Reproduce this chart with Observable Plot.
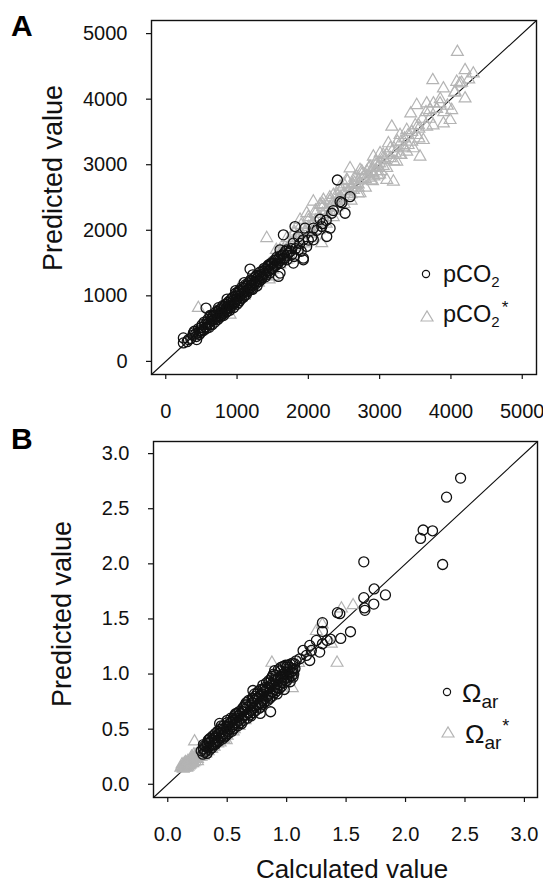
<!DOCTYPE html>
<html><head><meta charset="utf-8">
<script src="https://cdn.jsdelivr.net/npm/d3@7"></script>
<script src="https://cdn.jsdelivr.net/npm/@observablehq/plot@0.6"></script>
<style>
body{margin:0;background:#fff;}
#wrap{position:relative;width:543px;height:885px;overflow:hidden;background:#fff;font-family:"Liberation Sans",Arial,sans-serif;color:#111;}
#wrap svg.panel{position:absolute;left:0;}
#overlay{position:absolute;left:0;top:0;pointer-events:none;}
</style></head><body><div id="wrap"></div>
<script>
// ---------- data (calculated value, predicted value) ----------
const ticksA = [0, 1000, 2000, 3000, 4000, 5000];
const ticksB = [0, 0.5, 1.0, 1.5, 2.0, 2.5, 3.0];
const domainA = [-200, 5200];
const domainB = [-0.12, 3.11];

const pco2Star = [
[4090,4720],[4198,4441],[4314,4391],[3745,4289],[4081,4264],[4126,4238],[3894,4163],[4198,4010],[4058,4112],
[3520,3909],[3660,3934],[3754,3934],[3847,3934],[4011,3833],[3436,3782],[3707,3833],[3894,3630],[3988,3681],
[3660,3579],[3543,3605],[3170,3579],[3286,3452],[3380,3528],[3613,3376],[3520,3452],[3123,3326],[3333,3275],
[3473,3250],[3566,3123],[3216,3173],[3380,3199],[3286,3148],[3006,3173],[2912,3123],[3076,3072],[3240,3047],
[2865,2970],[2585,2944],[2725,2919],[2912,2868],[3100,2767],[3193,2742],[2678,2818],[2538,2767],[2445,2665],
[2632,2614],[2725,2564],[2351,2538],[2211,2463],[2070,2437],[2164,2387],[1977,2260],[1884,2159],[2188,1803],
[1416,1880],[1603,1651],[1697,1550],[1509,1296],[1322,1347],[1182,1195],[1042,1144],[457,814],[902,712],
[2800,2850],[2750,2780],[2900,2950],[2950,2900],[3000,3020],[3050,2980],[2850,2800],[2700,2700],[2650,2720],
[2600,2650],[2550,2600],[2500,2560],[2450,2500],[2400,2450],[2350,2420],[2300,2350],[2250,2300],[2200,2250],
[2150,2200],[2100,2150],[2050,2100],[2000,2050],[1950,1980],[1900,1950],[1850,1880],[1800,1850],[1750,1800],
[1700,1720],[1650,1700],[1600,1640],[1550,1580],[1500,1530],[1450,1480],[1400,1420],[1350,1380],[1300,1330],
[1250,1280],[1200,1220],[2600,2550],[2700,2650],[2800,2780],[2950,3050],[3100,3150],[2400,2550],[2300,2450],
[2200,2350],[2100,2250],[2500,2700],[2750,2900],[2250,2200],[2150,2050],[2050,1950],[1950,1850],[1850,1750],
[1750,1700],[1650,1600],[1550,1500],[1800,1950],[1700,1800],[1600,1700],[2000,2150],[3150,3100],[3300,3350],
[3400,3300],[3200,3250],[3450,3500],[3550,3550],[3600,3700],[3700,3700],[3800,3850],[3900,3800],[3350,3400],
[3050,3100],[2880,2760],[2980,2840],[700,750],[800,820],[900,880],[1000,1010],[1100,1080],[1200,1150],
[1300,1250],[1400,1350],[600,620],[1100,1000],[1250,1150],[1400,1300],[1500,1400],[1300,1200],[1450,1250],
[1550,1700],[1600,1480],[1700,1880],[1750,1600],[1800,1980],[1850,1700],[1900,2080],[1950,1800],[2000,2200],
[2050,1880],[2100,2300],[2150,2000],[2200,2400],[2250,2100],[2300,2500],[2350,2200],[2400,2350],[2450,2600],
[2500,2400],[2550,2750],[2600,2450],[2650,2800],[2700,2560],[2750,2850],[2800,2650],[2850,2950],[2900,2750],
[2950,3000],[3000,2850],[3050,3150],[3100,2950],[3150,3250],[3200,3050],[3250,3350],[3300,3150],[3350,3250],
[3400,3450],[3450,3350],[3500,3600],[3550,3400],[3650,3800],[3750,3600],[3850,4000],[3950,3900],[4050,4100],
[4150,4250],[4250,4300],[2820,2900],[2880,2880],[2920,2820],[2980,2960],[3020,2900],[2700,2760],[2620,2700],
[2560,2520],[2480,2450],[2420,2480],[2380,2300]
];

const pco2 = [
[2407,2767],[2445,2437],[2470,2420],[2585,2513],[2515,2260],[2328,2260],[2164,2168],[2188,2057],[2305,2032],
[2070,2032],[1953,2032],[1813,2057],[1650,1930],[2258,1905],[2070,1854],[1930,1854],[1790,1803],[1977,1753],
[1860,1702],[1697,1702],[1603,1702],[1767,1626],[1930,1575],[1650,1575],[1790,1499],[1930,1550],[1603,1347],
[1580,1296],[1182,1408],[565,814],[247,358],[247,282],[317,332],[434,332],[388,434],
[300,300],[350,350],[380,400],[420,420],[450,430],[480,470],[500,520],[520,480],[550,560],[560,520],[580,600],
[600,580],[620,560],[640,650],[650,620],[670,700],[680,640],[700,720],[700,680],[720,660],[740,760],[750,700],
[760,740],[780,800],[790,750],[800,720],[820,840],[830,780],[850,820],[860,760],[870,900],[880,850],[900,880],
[900,820],[920,950],[930,870],[950,930],[960,880],[980,1000],[990,940],[1000,960],[1010,1050],[1020,900],
[1040,1000],[1050,1080],[1060,960],[1080,1040],[1090,1110],[1100,1000],[1110,1070],[1130,1150],[1140,1060],
[1150,1100],[1160,1200],[1180,1120],[1200,1160],[1210,1230],[1220,1100],[1240,1200],[1250,1280],[1260,1180],
[1280,1260],[1300,1300],[1310,1220],[1330,1320],[1350,1280],[1360,1380],[1380,1340],[1400,1400],[1410,1320],
[1430,1450],[1450,1380],[1460,1480],[1480,1420],[1500,1500],[1520,1450],[1540,1540],[1560,1480],[1580,1560],
[1600,1600],[1620,1500],[1650,1640],[1700,1620],[1750,1680],[1700,1550],[1800,1600],
[400,460],[430,380],[460,500],[470,410],[490,440],[510,560],[530,470],[540,600],[570,500],[590,640],[610,520],
[630,690],[650,560],[660,680],[690,600],[710,760],[730,640],[750,790],[770,680],[780,720],[800,850],[810,700],
[840,870],[850,750],[870,800],[890,920],[900,780],[920,850],[940,980],[950,820],[970,900],[980,1040],[1000,870],
[1010,1000],[1030,1080],[1040,930],[1060,1020],[1070,1130],[1090,980],[1100,1060],[1120,1170],[1130,1020],
[1150,1150],[1170,1080],[1190,1240],[1200,1100],[1230,1170],[1250,1220],[1270,1310],[1280,1150],[1300,1240],
[1320,1360],[1340,1250],[1360,1300],[1380,1420],[1400,1290],[1420,1380],[1440,1470],[1460,1350],[1480,1500],
[1500,1420],[1520,1540],[1540,1460],[1560,1590],[1580,1500],[1600,1540],[1630,1620],[1660,1560],[1680,1680],
[1720,1650],[1760,1720],[1820,1720],[1880,1800],[1860,1900],[1900,1680],[2000,1850],[2050,1900],[2120,2000],
[2200,2100],[2250,2150],[2350,2300],[1220,1320],[1100,1200],[980,1080],[860,950],[740,820],[620,700]
];

const omegaStar = [
[0.876,1.102],[1.424,1.102],[1.048,0.871],[1.461,1.594],[1.559,1.624],[1.25,1.39],[1.376,1.275],[0.225,0.388],
[0.492,0.40],[1.30,1.45],[1.20,1.20],[1.10,1.10],[1.00,0.98],[0.95,0.92],[0.90,0.88],[0.85,0.82],[0.80,0.78],
[0.75,0.72],[0.70,0.68],[0.65,0.62],[0.60,0.58],[0.55,0.52],[0.50,0.48],[0.45,0.44],[0.40,0.38],[0.35,0.34],
[0.30,0.28],[0.11,0.15],[0.12,0.16],[0.13,0.16],[0.14,0.17],[0.15,0.18],[0.16,0.17],[0.17,0.19],[0.18,0.20],
[0.19,0.20],[0.20,0.22],[0.21,0.21],[0.22,0.23],[0.23,0.24],[0.24,0.23],[0.25,0.26],[0.26,0.25],[0.27,0.28],
[0.28,0.27],[0.29,0.30],[0.30,0.29],[0.15,0.20],[0.17,0.16],[0.19,0.22],[0.21,0.19],[0.23,0.21],[0.25,0.23],
[0.27,0.25],[0.29,0.27],[0.31,0.30],[0.33,0.31],[0.35,0.32],[0.36,0.35],[0.38,0.36],[0.40,0.40],[0.42,0.40],
[0.44,0.42],[0.46,0.44],[0.48,0.46],[0.50,0.50],[0.52,0.50],[0.55,0.55],[0.58,0.56],[0.60,0.60],[0.20,0.25],
[0.22,0.27],[0.18,0.17],[0.16,0.15],[0.14,0.15],[0.24,0.27],[0.26,0.29],[0.28,0.31],[0.32,0.33],[0.34,0.37],
[0.55,0.48],[0.60,0.53],[0.65,0.58],
[0.12,0.18],[0.13,0.14],[0.14,0.19],[0.15,0.16],[0.16,0.19],[0.17,0.21],[0.18,0.18],[0.19,0.18],[0.20,0.19],
[0.21,0.24],[0.22,0.20],[0.23,0.26],[0.24,0.25],[0.25,0.21],[0.26,0.27],[0.27,0.30],[0.28,0.25],[0.29,0.32],
[0.30,0.26],[0.31,0.33],[0.32,0.28],[0.33,0.35],[0.34,0.30],[0.36,0.38],[0.37,0.32],[0.38,0.40],[0.39,0.34],
[0.41,0.43],[0.42,0.37],[0.43,0.45],[0.44,0.38],[0.46,0.47],[0.47,0.41],[0.49,0.49],[0.50,0.44],[0.53,0.52],
[0.56,0.50]
];

const omega = [
[2.463,2.778],[2.345,2.605],[2.148,2.307],[2.227,2.30],[2.126,2.231],[2.312,1.994],[1.649,2.018],[1.736,1.772],
[1.649,1.693],[1.831,1.718],[1.733,1.635],[1.658,1.578],[1.654,1.60],[1.427,1.557],[1.447,1.548],[1.301,1.466],
[1.301,1.387],[1.537,1.384],[1.455,1.323],[1.368,1.317],[1.34,1.305],[1.301,1.275],[1.25,1.305],[1.194,1.26],
[1.208,1.214],[1.138,1.214],[1.278,1.199],[1.166,1.169],[1.194,1.123],[1.11,1.138],[1.067,1.093],[1.054,1.032],
[0.997,1.062],[1.054,0.972],[0.969,0.972],[0.899,1.032],[0.865,0.658],[0.778,0.643],[0.716,0.851],[0.436,0.552],
[0.281,0.303],[0.295,0.273],
[0.30,0.32],[0.31,0.35],[0.32,0.30],[0.33,0.37],[0.34,0.33],[0.35,0.38],[0.36,0.35],[0.37,0.40],[0.38,0.36],
[0.39,0.42],[0.40,0.39],[0.41,0.44],[0.42,0.40],[0.43,0.46],[0.44,0.42],[0.45,0.47],[0.46,0.44],[0.47,0.50],
[0.48,0.46],[0.49,0.52],[0.50,0.48],[0.51,0.54],[0.52,0.50],[0.53,0.56],[0.54,0.52],[0.55,0.58],[0.56,0.54],
[0.57,0.60],[0.58,0.56],[0.59,0.62],[0.60,0.58],[0.61,0.64],[0.62,0.60],[0.63,0.66],[0.64,0.62],[0.65,0.68],
[0.66,0.63],[0.67,0.70],[0.68,0.65],[0.69,0.72],[0.70,0.67],[0.71,0.74],[0.72,0.69],[0.73,0.76],[0.74,0.71],
[0.75,0.78],[0.76,0.72],[0.77,0.80],[0.78,0.74],[0.79,0.82],[0.80,0.76],[0.81,0.84],[0.82,0.78],[0.83,0.86],
[0.84,0.80],[0.85,0.88],[0.86,0.82],[0.87,0.90],[0.88,0.84],[0.89,0.92],[0.90,0.86],[0.91,0.94],[0.92,0.88],
[0.93,0.96],[0.94,0.90],[0.95,0.98],[0.96,0.92],[0.97,1.00],[0.98,0.95],[0.99,1.02],[1.00,0.97],[1.01,1.04],
[1.02,1.00],[1.03,1.06],[1.04,1.02],[1.05,1.05],[0.62,0.55],[0.70,0.62],[0.78,0.70],[0.86,0.78],[0.92,0.82],
[0.98,0.86],[1.03,0.93],[0.55,0.50],[0.48,0.43],[0.40,0.36],[0.66,0.72],[0.74,0.80],[0.82,0.88],[0.58,0.64],
[0.50,0.56],[0.45,0.53],[0.40,0.46],[0.35,0.41],[0.90,0.95],[0.95,1.03],[0.88,0.98],[0.80,0.86],[0.72,0.78],
[0.64,0.70],[0.56,0.62],
[0.30,0.36],[0.31,0.29],[0.32,0.34],[0.33,0.28],[0.34,0.40],[0.35,0.31],[0.36,0.42],[0.37,0.33],[0.38,0.44],
[0.39,0.36],[0.41,0.38],[0.42,0.48],[0.43,0.39],[0.44,0.50],[0.46,0.41],[0.47,0.53],[0.49,0.44],[0.50,0.58],
[0.51,0.46],[0.53,0.60],[0.54,0.48],[0.56,0.51],[0.57,0.64],[0.59,0.53],[0.60,0.66],[0.61,0.56],[0.63,0.69],
[0.64,0.58],[0.66,0.74],[0.67,0.60],[0.68,0.76],[0.69,0.63],[0.71,0.78],[0.72,0.65],[0.73,0.82],[0.74,0.67],
[0.76,0.84],[0.77,0.69],[0.78,0.86],[0.79,0.72],[0.80,0.90],[0.81,0.74],[0.83,0.92],[0.84,0.76],[0.85,0.94],
[0.86,0.79],[0.87,0.96],[0.88,0.80],[0.89,1.00],[0.90,0.83],[0.91,0.99],[0.92,0.85],[0.93,1.04],[0.94,0.87],
[0.95,1.06],[0.96,0.89],[0.97,1.07],[0.98,0.92],[0.99,1.08],[1.00,0.94],[1.01,1.08],[1.02,0.97],[1.03,1.09],
[1.04,0.98],[1.05,1.10],[1.06,1.00],[1.07,1.05],[1.08,1.12],[0.75,0.82],[0.65,0.72],[0.55,0.60],[0.45,0.50],
[0.85,0.92],[0.95,0.96],[0.70,0.70],[0.80,0.80],[0.60,0.62],[0.50,0.52],[0.40,0.42],[0.90,0.90],[1.00,1.00]
];

// ---------- drawing ----------
const FONT = "Liberation Sans, Arial, Helvetica, sans-serif";
const INK = "#111";
const GREY = "#b4b4b4";

function panel(o) {
  const svg = Plot.plot({
    width: 543, height: o.height,
    marginLeft: o.ml, marginRight: o.mr, marginTop: o.mt, marginBottom: o.mb,
    style: {fontFamily: FONT, fontSize: "20px", color: INK, background: "transparent", overflow: "visible"},
    x: {domain: o.domain},
    y: {domain: o.domain},
    marks: [
      Plot.axisX({ticks: o.ticks, tickFormat: o.fmt, tickSize: 5, tickPadding: 24, label: null, stroke: INK, strokeWidth: 1.2, fill: INK}),
      Plot.axisY({ticks: o.ticks, tickFormat: o.fmt, tickSize: 5, tickPadding: 19, label: null, stroke: INK, strokeWidth: 1.2, fill: INK}),
      Plot.line(o.domain, {x: d => d, y: d => d, stroke: INK, strokeWidth: 1.1}),
      Plot.dot(o.tris, {x: d => d[0], y: d => d[1], symbol: "triangle", r: 4.4, fill: "none", stroke: GREY, strokeWidth: 1.2}),
      Plot.dot(o.circles, {x: d => d[0], y: d => d[1], symbol: "circle", r: 5, fill: "none", stroke: INK, strokeWidth: 1.3}),
      Plot.frame({stroke: INK, strokeWidth: 1.4})
    ]
  });
  svg.classList.add("panel");
  svg.style.top = o.top + "px";
  return svg;
}

const wrap = document.getElementById("wrap");
wrap.appendChild(panel({top: 0, height: 425, ml: 151, mr: 7, mt: 20, mb: 51,
  domain: domainA, ticks: ticksA, fmt: d3.format("d"), tris: pco2Star, circles: pco2}));
wrap.appendChild(panel({top: 425, height: 460, ml: 153, mr: 6, mt: 16, mb: 88,
  domain: domainB, ticks: ticksB, fmt: d3.format(".1f"), tris: omegaStar, circles: omega}));

// ---------- labels & legends ----------
const ns = "http://www.w3.org/2000/svg";
const ov = document.createElementNS(ns, "svg");
ov.setAttribute("id", "overlay");
ov.setAttribute("width", 543); ov.setAttribute("height", 885);
ov.setAttribute("font-family", FONT);
ov.innerHTML = `
  <text x="11" y="36" font-size="30" font-weight="bold" fill="#000">A</text>
  <text x="11" y="449" font-size="30" font-weight="bold" fill="#000">B</text>
  <text transform="translate(53,178) rotate(-90)" dy="0.35em" text-anchor="middle" font-size="27" fill="${INK}">Predicted value</text>
  <text transform="translate(62,614) rotate(-90)" dy="0.35em" text-anchor="middle" font-size="27" fill="${INK}">Predicted value</text>
  <text x="352" y="878" text-anchor="middle" font-size="26" fill="${INK}">Calculated value</text>

  <circle cx="426" cy="274" r="3.6" fill="none" stroke="${INK}" stroke-width="1.2"/>
  <text x="443" y="282" font-size="23.5" fill="${INK}">pCO<tspan font-size="15" dy="5">2</tspan></text>
  <path d="M421,321 L427,311 L433,321 Z" fill="none" stroke="${GREY}" stroke-width="1.2"/>
  <text x="443" y="322" font-size="23.5" fill="${INK}">pCO<tspan font-size="15" dy="5">2</tspan><tspan font-size="17" dy="-14" dx="2">*</tspan></text>

  <circle cx="447" cy="692" r="3.6" fill="none" stroke="${INK}" stroke-width="1.2"/>
  <text x="462" y="702" font-size="26" fill="${INK}">Ω<tspan font-size="19" dy="6">ar</tspan></text>
  <path d="M442,737 L448,727 L454,737 Z" fill="none" stroke="${GREY}" stroke-width="1.2"/>
  <text x="465" y="743" font-size="26" fill="${INK}">Ω<tspan font-size="19" dy="6">ar</tspan><tspan font-size="18" dy="-17" dx="1">*</tspan></text>
`;
wrap.appendChild(ov);
</script>
</body></html>
